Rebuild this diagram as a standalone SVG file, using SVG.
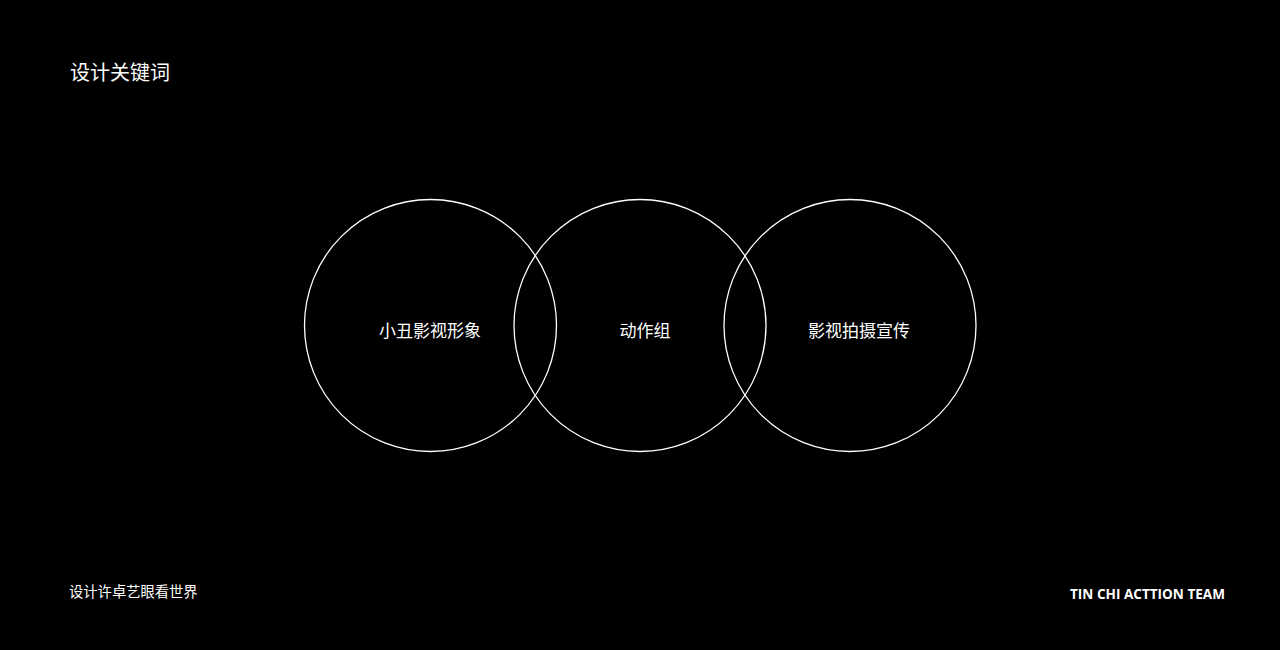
<svg xmlns="http://www.w3.org/2000/svg" width="1280" height="650" viewBox="0 0 1280 650">
<style>
.c{fill:none;stroke:#ffffff;stroke-width:1.3}
.t{fill:#ffffff;font-family:"Noto Sans CJK SC","Noto Sans",sans-serif}
.e{fill:#ffffff;font-family:"Open Sans","Liberation Sans",sans-serif;font-weight:bold}
</style>
<rect x="0" y="0" width="1280" height="650" fill="#000000"/>
<text class="t" x="70" y="80" font-size="20">设计关键词</text>
<g id="node-left">
<circle class="c" cx="430.5" cy="325.5" r="126"/>
<text class="t" x="430" y="337" font-size="17" text-anchor="middle">小丑影视形象</text>
</g>
<g id="node-middle">
<circle class="c" cx="640" cy="325.5" r="126"/>
<text class="t" x="645" y="337" font-size="17" text-anchor="middle">动作组</text>
</g>
<g id="node-right">
<circle class="c" cx="850" cy="325.5" r="126"/>
<text class="t" x="859" y="337" font-size="17" text-anchor="middle">影视拍摄宣传</text>
</g>
<g id="connectors"></g>
<text class="t" x="69" y="597" font-size="14.3">设计许卓艺眼看世界</text>
<text class="e" x="1070" y="599" font-size="14" textLength="155" lengthAdjust="spacingAndGlyphs">TIN CHI ACTTION TEAM</text>
</svg>
